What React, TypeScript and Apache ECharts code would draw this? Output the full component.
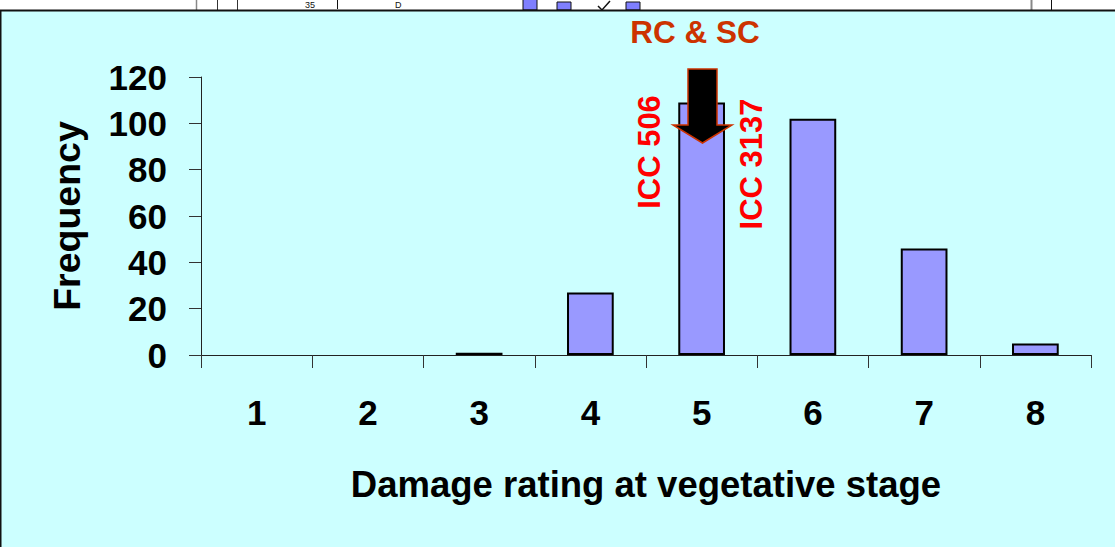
import React, { useEffect, useRef } from "react";
import * as echarts from "echarts";

const categories = ["1", "2", "3", "4", "5", "6", "7", "8"];
const frequency = [0, 0, 1, 27, 109, 102, 46, 5];
const yTicks = { min: 0, max: 120, interval: 20 };
const xTitle = "Damage rating at vegetative stage";
const yTitle = "Frequency";
const topNote = "RC & SC";
const leftNote = "ICC 506";
const rightNote = "ICC 3137";

const FONT = "'Liberation Sans', Arial, sans-serif";

export default function App() {
  const ref = useRef<HTMLDivElement>(null);
  useEffect(() => {
    if (!ref.current) return;
    const chart = echarts.init(ref.current, null, { renderer: "svg" });
    const barData = frequency.map((v) =>
      v === 0 ? { value: v, itemStyle: { borderWidth: 0, opacity: 0 } } : v
    );
    chart.setOption({
      animation: false,
      backgroundColor: "#CCFFFF",
      textStyle: { fontFamily: FONT },
      grid: { left: 201, right: 24, top: 77, bottom: 192, containLabel: false, outerBoundsMode: "none" },
      xAxis: {
        type: "category",
        data: categories,
        boundaryGap: true,
        axisLine: { lineStyle: { color: "#222", width: 1 } },
        axisTick: { show: true, length: 13, alignWithLabel: false, lineStyle: { color: "#333" } },
        axisLabel: { color: "#000", fontSize: 35, fontWeight: "bold", fontFamily: FONT, margin: 40 },
        name: xTitle,
        nameLocation: "middle",
        nameGap: 129,
        nameTextStyle: { color: "#000", fontSize: 36.5, fontWeight: "bold", fontFamily: FONT, verticalAlign: "middle" },
      },
      yAxis: {
        type: "value",
        min: yTicks.min,
        max: yTicks.max,
        interval: yTicks.interval,
        splitLine: { show: false },
        axisLine: { show: true, lineStyle: { color: "#222", width: 1 } },
        axisTick: { show: true, length: 12, lineStyle: { color: "#333" } },
        axisLabel: { color: "#000", fontSize: 35, fontWeight: "bold", fontFamily: FONT, margin: 34 },
        name: yTitle,
        nameLocation: "middle",
        nameGap: 134,
        nameRotate: 90,
        nameTextStyle: { color: "#000", fontSize: 37.5, fontWeight: "bold", fontFamily: FONT, verticalAlign: "middle" },
      },
      series: [
        {
          type: "bar",
          data: barData,
          barWidth: "42%",
          itemStyle: { color: "#9999FF", borderColor: "#000", borderWidth: 2 },
        },
      ],
      graphic: [
        { type: "rect", shape: { x: 0, y: 0, width: 1115, height: 10 }, style: { fill: "#fff" }, z: 10 },
        { type: "line", shape: { x1: 196.5, y1: 0, x2: 196.5, y2: 10 }, style: { stroke: "#888", lineWidth: 1.5 }, z: 11 },
        { type: "line", shape: { x1: 217.5, y1: 0, x2: 217.5, y2: 10 }, style: { stroke: "#333", lineWidth: 1 }, z: 11 },
        { type: "line", shape: { x1: 237.5, y1: 0, x2: 237.5, y2: 10 }, style: { stroke: "#333", lineWidth: 1 }, z: 11 },
        { type: "line", shape: { x1: 1031.5, y1: 0, x2: 1031.5, y2: 10 }, style: { stroke: "#888", lineWidth: 2 }, z: 11 },
        { type: "line", shape: { x1: 1051.5, y1: 0, x2: 1051.5, y2: 10 }, style: { stroke: "#111", lineWidth: 1 }, z: 11 },
        { type: "rect", shape: { x: 523, y: -2, width: 14, height: 12 }, style: { fill: "#7F7FFF", stroke: "#111", lineWidth: 1 }, z: 11 },
        { type: "rect", shape: { x: 557, y: 2, width: 14, height: 8 }, style: { fill: "#7F7FFF", stroke: "#111", lineWidth: 1 }, z: 11 },
        { type: "rect", shape: { x: 626, y: 2, width: 14, height: 8 }, style: { fill: "#7F7FFF", stroke: "#111", lineWidth: 1 }, z: 11 },
        { type: "polyline", shape: { points: [[598, 6], [602, 10], [610, 1]] }, style: { stroke: "#111", lineWidth: 1.5 }, z: 11 },
        { type: "line", shape: { x1: 337.5, y1: 0, x2: 337.5, y2: 9 }, style: { stroke: "#111", lineWidth: 1 }, z: 11 },
        { type: "text", x: 305, y: 5, style: { text: "35", fill: "#111", font: `9px ${FONT}`, align: "left", verticalAlign: "middle" }, z: 11 },
        { type: "text", x: 395, y: 5, style: { text: "D", fill: "#111", font: `9px ${FONT}`, align: "left", verticalAlign: "middle" }, z: 11 },
        { type: "line", shape: { x1: 0, y1: 10.5, x2: 1115, y2: 10.5 }, style: { stroke: "#111", lineWidth: 2 }, z: 12 },
        { type: "line", shape: { x1: 0.75, y1: 10, x2: 0.75, y2: 547 }, style: { stroke: "#111", lineWidth: 1.5 }, z: 12 },
        {
          type: "text", x: 695, y: 32,
          style: { text: topNote, fill: "#CC3300", font: `bold 31.5px ${FONT}`, align: "center", verticalAlign: "middle" },
          z: 20,
        },
        {
          type: "polygon",
          shape: { points: [[688, 69], [717, 69], [717, 125], [732, 125], [702.5, 143], [673, 125], [688, 125]] },
          style: { fill: "#000", stroke: "#CC3300", lineWidth: 1.5 },
          z: 20,
        },
        {
          type: "text", x: 649, y: 152, rotation: Math.PI / 2,
          style: { text: leftNote, fill: "#FF0000", font: `bold 31px ${FONT}`, align: "center", verticalAlign: "middle" },
          z: 20,
        },
        {
          type: "text", x: 751, y: 164, rotation: Math.PI / 2,
          style: { text: rightNote, fill: "#FF0000", font: `bold 31px ${FONT}`, align: "center", verticalAlign: "middle" },
          z: 20,
        },
      ],
    });
    return () => chart.dispose();
  }, []);
  return (
    <div
      ref={ref}
      style={{ position: "fixed", left: 0, top: 0, width: 1115, height: 547 }}
    />
  );
}
